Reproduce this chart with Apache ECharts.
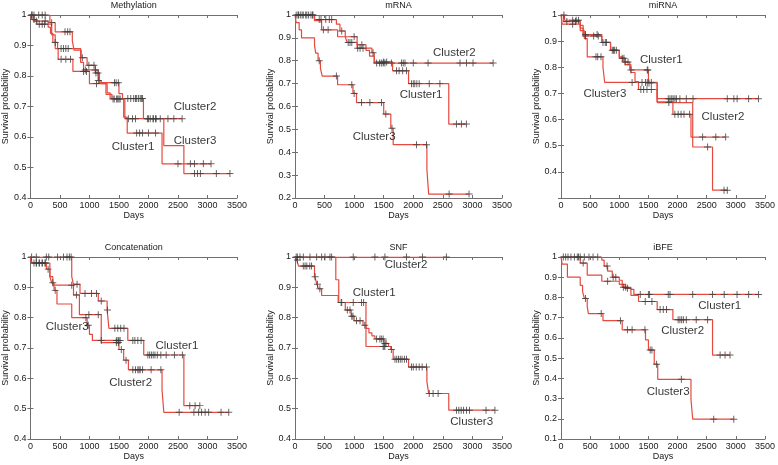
<!DOCTYPE html>
<html><head><meta charset="utf-8">
<script src="https://cdn.jsdelivr.net/npm/echarts@6/dist/echarts.min.js"></script>
<style>html,body{margin:0;padding:0;background:#fff}#c{width:778px;height:465px}</style>
</head><body><div id="c"></div>
<script>
// ---------- DATA ----------
const panelTitles = ['Methylation', 'mRNA', 'miRNA', 'Concatenation', 'SNF', 'iBFE'];
const clusterNames = ['Cluster1', 'Cluster2', 'Cluster3'];
const yMins = [0.4, 0.2, 0.3, 0.4, 0.4, 0.1];
const xMax = 3500, xStep = 500, yStep = 0.1;

// steps: [day, survival after drop]; cens: censored days
const methyl_c1_steps = [[30,0.985],[110,0.97],[360,0.935],[420,0.89],[470,0.855],[720,0.815],[1000,0.775],[1300,0.745],[1350,0.725],[1580,0.665],[1640,0.613],[2230,0.512]];
const methyl_c1_cens = [60,150,200,240,520,600,680,900,950,1120,1420,1480,1500,1800,1850,1900,2000,2120,2500,2710,2780,2930,3060];
const methyl_c2_steps = [[330,0.975],[420,0.945],[710,0.915],[740,0.885],[860,0.86],[960,0.835],[1100,0.81],[1170,0.778],[1500,0.742],[1560,0.726],[1915,0.66]];
const methyl_c2_cens = [30,60,140,200,250,360,586,631,670,880,990,1077,1110,1145,1424,1452,1490,1650,1700,1750,1780,1800,1830,1860,1880,1900,1982,2030,2080,2120,2200,2330,2430,2570];
const methyl_c3_steps = [[60,0.98],[300,0.96],[340,0.94],[380,0.91],[460,0.89],[850,0.845],[900,0.82],[1150,0.785],[1200,0.775],[1280,0.74],[1380,0.725],[1600,0.66],[2260,0.572],[2600,0.48]];
const methyl_c3_cens = [20,100,250,420,520,560,600,640,930,1100,1150,1400,1460,1520,1660,1730,1780,2000,2080,2130,2780,2830,2880,3150,3380];

const mrna_c1_steps = [[330,0.975],[450,0.935],[720,0.905],[1050,0.87],[1200,0.845],[1260,0.82],[1340,0.795],[1650,0.756],[1920,0.70],[2600,0.523]];
const mrna_c1_cens = [60,120,200,300,480,560,1000,1130,1500,1550,1716,1760,1820,1885,1970,2000,2025,2060,2100,2270,2450,2730,2814,2898];
const mrna_c2_steps = [[330,0.98],[700,0.96],[760,0.93],[850,0.905],[880,0.88],[1050,0.855],[1300,0.835],[1340,0.79]];
const mrna_c2_cens = [20,50,90,140,180,230,270,300,410,440,520,580,620,790,900,930,960,1060,1100,1150,1320,1380,1430,1460,1490,1520,1630,1800,1830,1860,2000,2250,2790,2900,3010,3350];
const mrna_c3_steps = [[20,0.967],[70,0.935],[110,0.9],[330,0.867],[350,0.833],[390,0.80],[430,0.767],[460,0.733],[720,0.695],[980,0.657],[1040,0.617],[1500,0.567],[1620,0.505],[1660,0.433],[2230,0.325],[2260,0.217]];
const mrna_c3_cens = [410,700,960,1000,1125,1266,1463,1536,1640,2054,2223,2606,2943];

const mirna_c1_steps = [[60,0.98],[330,0.96],[380,0.925],[700,0.895],[850,0.865],[1000,0.84],[1060,0.82],[1180,0.79],[1500,0.74],[1650,0.68]];
const mirna_c1_cens = [50,200,260,300,420,620,720,760,880,920,950,1100,1150,1200,1480,1490,1510,1840,1870,1900,1925,1955,1980,2040,2150,2265,2853,2966,3022,3219,3388];
const mirna_c2_steps = [[40,0.975],[330,0.95],[380,0.92],[700,0.895],[850,0.865],[1000,0.835],[1100,0.81],[1200,0.78],[1270,0.745],[1330,0.715],[1650,0.668],[1920,0.62],[2230,0.533]];
const mirna_c2_cens = [100,250,420,560,640,780,900,1050,1080,1370,1418,1475,1550,1953,2010,2060,2110,2206,2430,2656,2825];
const mirna_c3_steps = [[20,0.965],[330,0.94],[400,0.91],[450,0.84],[720,0.80],[750,0.742],[1650,0.665],[2260,0.495],[2600,0.33]];
const mirna_c3_cens = [200,600,630,686,1220,1390,1450,1480,1550,1850,2515,2797,2853];

const concat_c1_steps = [[700,0.935],[730,0.91],[840,0.88],[1150,0.855],[1300,0.825],[1330,0.765],[1650,0.725],[1920,0.677],[2600,0.51]];
const concat_c1_cens = [20,100,270,310,460,560,620,660,690,790,925,1035,1120,1200,1305,1430,1480,1530,1585,1735,1770,1820,1875,1990,2020,2050,2080,2110,2150,2210,2300,2440,2575,2700,2790,2870];
const concat_c2_steps = [[30,0.98],[330,0.935],[380,0.907],[730,0.875],[830,0.81],[1200,0.718],[1500,0.695],[1580,0.66],[1660,0.628],[2230,0.562],[2260,0.488]];
const concat_c2_cens = [60,100,150,200,250,700,780,990,1150,1456,1490,1540,1620,1735,1780,1820,1840,1860,1900,2045,2210,2520,2770,2850,2900,2960,3020,3230,3360];
const concat_c3_steps = [[20,0.98],[270,0.96],[330,0.935],[360,0.915],[400,0.89],[450,0.845],[700,0.80],[960,0.775],[1000,0.745],[1050,0.725]];
const concat_c3_cens = [100,150,200,250,300,380,420,940,980,1200,1456,1484,1500,1520];

const snf_c1_steps = [[690,0.925],[740,0.85],[1200,0.705]];
const snf_c1_cens = [790,985,1125,1160,1490,1505,1520];
const snf_c2_steps = [];
const snf_c2_cens = [40,84,141,253,366,450,506,591,619,985,1351,1520,1885,2155,2560];
const snf_c3_steps = [[30,0.99],[60,0.97],[330,0.935],[350,0.925],[370,0.91],[400,0.895],[450,0.873],[730,0.85],[850,0.825],[950,0.805],[1000,0.79],[1150,0.775],[1200,0.765],[1250,0.75],[1300,0.74],[1350,0.73],[1500,0.715],[1580,0.705],[1620,0.695],[1660,0.663],[1920,0.637],[2230,0.59],[2260,0.55],[2600,0.495]];
const snf_c3_cens = [20,40,140,170,200,250,280,340,380,420,780,885,930,960,980,1040,1100,1180,1380,1435,1460,1490,1520,1540,1630,1690,1720,1750,1780,1810,1850,1885,1970,2000,2050,2100,2150,2223,2270,2335,2420,2730,2770,2810,2850,2900,2950,3230,3380];

const ibfe_c1_steps = [[700,0.985],[740,0.955],[800,0.93],[880,0.90],[1000,0.885],[1050,0.85],[1200,0.84],[1250,0.815]];
const ibfe_c1_cens = [40,80,120,170,230,280,300,330,400,480,550,630,790,895,940,1070,1110,1360,1500,1520,1840,1870,2260,2600,2800,3020,3220,3390];
const ibfe_c2_steps = [[330,0.97],[450,0.91],[700,0.88],[1000,0.865],[1100,0.845],[1200,0.81],[1330,0.78],[1650,0.74],[1920,0.69],[2600,0.515]];
const ibfe_c2_cens = [380,800,1140,1445,1560,1700,1755,1810,2010,2040,2070,2100,2150,2320,2515,2730,2815,2900];
const ibfe_c3_steps = [[20,0.965],[110,0.9],[330,0.86],[370,0.83],[400,0.795],[450,0.755],[470,0.72],[720,0.685],[1050,0.64],[1450,0.59],[1500,0.54],[1600,0.47],[1660,0.395],[2230,0.295],[2260,0.198]];
const ibfe_c3_cens = [420,690,1020,1140,1220,1440,1530,1560,1640,2065,2620,2965];

// annotation anchors (data coords) for Cluster1..3 text
const methyl_labels = [[1368,0.569],[2418,0.70],[2418,0.589]];
const mrna_labels = [[1761,0.649],[2324,0.835],[968,0.466]];
const mirna_labels = [[1345,0.828],[2403,0.611],[377,0.70]];
const concat_labels = [[2111,0.708],[1327,0.584],[252,0.77]];
const snf_labels = [[968,0.883],[1508,0.973],[2617,0.458]];
const ibfe_labels = [[2347,0.757],[1711,0.635],[1463,0.335]];

const panelData = [
  [[methyl_c1_steps,methyl_c1_cens],[methyl_c2_steps,methyl_c2_cens],[methyl_c3_steps,methyl_c3_cens],methyl_labels],
  [[mrna_c1_steps,mrna_c1_cens],[mrna_c2_steps,mrna_c2_cens],[mrna_c3_steps,mrna_c3_cens],mrna_labels],
  [[mirna_c1_steps,mirna_c1_cens],[mirna_c2_steps,mirna_c2_cens],[mirna_c3_steps,mirna_c3_cens],mirna_labels],
  [[concat_c1_steps,concat_c1_cens],[concat_c2_steps,concat_c2_cens],[concat_c3_steps,concat_c3_cens],concat_labels],
  [[snf_c1_steps,snf_c1_cens],[snf_c2_steps,snf_c2_cens],[snf_c3_steps,snf_c3_cens],snf_labels],
  [[ibfe_c1_steps,ibfe_c1_cens],[ibfe_c2_steps,ibfe_c2_cens],[ibfe_c3_steps,ibfe_c3_cens],ibfe_labels]
];

// ---------- LAYOUT / STYLE ----------
const grids = [
  {left:29, top:15, width:208, height:183},
  {left:295, top:15, width:207, height:183},
  {left:561, top:15, width:207, height:183},
  {left:29, top:257, width:208, height:182},
  {left:295, top:257, width:207, height:182},
  {left:561, top:257, width:207, height:182}
];
const FONT = 'Liberation Sans';
const AXIS_C = '#707070', TXT_C = '#1a1a1a';
const LINE_C = '#e6493e', CENS_C = '#3c3c3c';
const PLUS = 'path://M4.3,0H5.7V4.3H10V5.7H5.7V10H4.3V5.7H0V4.3H4.3Z';

function levelAt(steps, t){ let s = 1; for (const d of steps){ if (d[0] <= t) s = d[1]; } return s; }

const xAxis = [], yAxis = [], series = [];
grids.forEach((g, i) => {
  const common = {min:0, max:xMax, interval:xStep, gridIndex:i, splitLine:{show:false},
    axisLine:{show:true, lineStyle:{color:AXIS_C, width:1}},
    axisTick:{show:true, inside:true, length:3, lineStyle:{color:AXIS_C}}};
  xAxis.push(Object.assign({}, common, {type:'value', position:'bottom',
    axisLabel:{show:true, fontSize:9, color:TXT_C, fontFamily:FONT, margin:3, formatter: v => String(v)},
    name:'Days', nameLocation:'middle', nameGap:13, nameTextStyle:{fontSize:9, color:TXT_C, fontFamily:FONT}}));
  xAxis.push(Object.assign({}, common, {type:'value', position:'top', axisLabel:{show:false},
    name:panelTitles[i], nameLocation:'middle', nameGap:5, nameTextStyle:{fontSize:9, color:TXT_C, fontFamily:FONT}}));
  const ycommon = {type:'value', min:yMins[i], max:1, interval:yStep, gridIndex:i, splitLine:{show:false},
    axisLine:{show:true, lineStyle:{color:AXIS_C, width:1}},
    axisTick:{show:true, inside:true, length:3, lineStyle:{color:AXIS_C}}};
  yAxis.push(Object.assign({}, ycommon, {position:'left',
    axisLabel:{show:true, fontSize:9, color:TXT_C, fontFamily:FONT, margin:4, showMinLabel: i !== 2,
      formatter: v => String(Math.round(v*10)/10)},
    name:'Survival probability', nameLocation:'middle', nameGap:16, nameRotate:90,
    nameTextStyle:{fontSize:9, color:TXT_C, fontFamily:FONT}}));
  yAxis.push(Object.assign({}, ycommon, {position:'right', axisLabel:{show:false}}));

  const pd = panelData[i];
  for (let c = 0; c < 3; c++){
    const steps = pd[c][0], cens = pd[c][1];
    const last = steps.length ? steps[steps.length-1] : [0,1];
    const tEnd = Math.max(last[0], cens.length ? Math.max(...cens) : 0);
    const lineData = [[0,1]].concat(steps).concat([[tEnd, last[1]]]);
    series.push({type:'line', step:'end', xAxisIndex:2*i, yAxisIndex:2*i, data:lineData,
      showSymbol:false, symbol:'none', lineStyle:{color:LINE_C, width:1.2}, z:2, silent:true});
    series.push({type:'scatter', xAxisIndex:2*i, yAxisIndex:2*i,
      data:cens.map(t => [t, levelAt(steps, t)]), symbol:PLUS, symbolSize:7,
      itemStyle:{color:CENS_C}, z:3, silent:true});
  }
  series.push({type:'scatter', xAxisIndex:2*i, yAxisIndex:2*i, symbolSize:1,
    itemStyle:{color:'rgba(0,0,0,0)'}, silent:true, z:4,
    data: pd[3].map((p, k) => ({name:clusterNames[k], value:p})),
    label:{show:true, position:'right', distance:0, formatter:p => p.name,
      fontSize:11.5, color:'#000', fontFamily:FONT, textBorderWidth:0}});
});

const chart = echarts.init(document.getElementById('c'), null, {renderer:'canvas'});
chart.setOption({animation:false, backgroundColor:'#fff',
  grid:grids.map(g => Object.assign({containLabel:false}, g)), xAxis, yAxis, series});
</script></body></html>
